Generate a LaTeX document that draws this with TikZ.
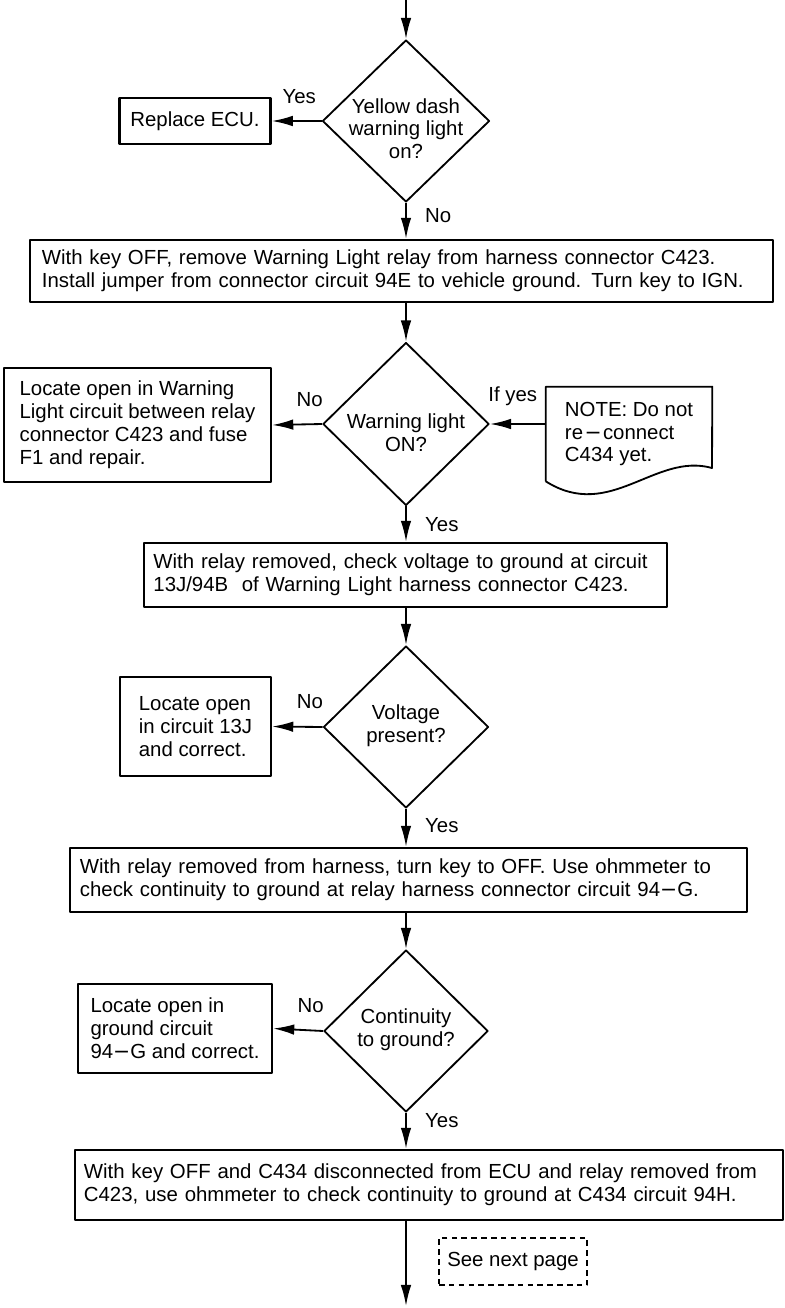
\documentclass[tikz,border=0pt]{standalone}
\usepackage{fontspec}
\setmainfont{Liberation Sans}
\usetikzlibrary{shapes.geometric,arrows.meta}
\newcommand{\dtext}[2]{\raisebox{#1}[0pt][0pt]{\begin{tabular}{@{}c@{}}#2\end{tabular}}}
\begin{document}
\begin{tikzpicture}[x=0.025cm, y=-0.025cm, line join=round, >={Latex[length=15pt,width=7.5pt]},
		font=\fontsize{14.5}{16.3}\selectfont]
	\tikzset{decision/.style={diamond, draw, line width=1.3pt, inner sep=0pt, align=center},
		stepbox/.style={rectangle, draw, line width=1.6pt, inner xsep=0.275cm, align=left},
		lbl/.style={inner sep=0pt},
		flow/.style={->, line width=1.3pt}
	}
	\useasboundingbox (0,0) rectangle (784,1308);
	\coordinate (start) at (406,0);
	\coordinate (end) at (406,1306);
	% first check
	\node[decision, minimum width=4.175cm, minimum height=4.05cm] (d1) at (406,121) {\dtext{-11pt}{Yellow dash\\warning light\\on?}};
	\node[stepbox, minimum width=3.75cm, minimum height=1.15cm] (ecu) at (195,121) {Replace ECU.};
	\node[stepbox, inner xsep=0.3cm, minimum width=18.575cm, minimum height=1.55cm, text width=17.975cm] (s1) at (401.5,271)
		{With key OFF, remove Warning Light relay from harness connector C423.\\Install jumper from connector circuit 94E to vehicle ground. Turn key to IGN.};
	% second check
	\node[decision, minimum width=4.15cm, minimum height=4.075cm] (d2) at (406,424) {\dtext{-12pt}{Warning light\\ON?}};
	\node[stepbox, minimum width=6.675cm, minimum height=2.85cm] (open1) at (137.5,425)
		{Locate open in Warning\\Light circuit between relay\\connector C423 and fuse\\F1 and repair.};
	\node[align=left, inner sep=0pt, minimum width=4.15cm, minimum height=2.35cm] (note) at (629,434)
		{NOTE: Do not\\re\kern1pt{\fontspec{DejaVu Sans}−}\kern1pt connect\\C434 yet.};
	\draw[line width=1.3pt] (note.south west) -- (note.north west) -- (note.north east) -- (712,468)
		.. controls (655,452) and (610,522) .. (note.south west);
	\node[stepbox, inner xsep=0.2375cm, minimum width=13.075cm, minimum height=1.6cm, text width=12.6cm] (s2) at (405.5,575)
		{With relay removed, check voltage to ground at circuit\\13J/94B\ \ of Warning Light harness connector C423.};
	% third check
	\node[decision, minimum width=4.125cm, minimum height=4.05cm] (d3) at (406,727) {\dtext{-3.5pt}{Voltage\\present?}};
	\node[stepbox, minimum width=3.775cm, minimum height=2.475cm] (open2) at (195.5,726.5)
		{Locate open\\in circuit 13J\\and correct.};
	\node[stepbox, inner xsep=0.25cm, minimum width=16.925cm, minimum height=1.6cm, text width=16.425cm] (s3) at (408.5,880)
		{With relay removed from harness, turn key to OFF. Use ohmmeter to\\check continuity to ground at relay harness connector circuit 94{\fontspec{DejaVu Sans}−}G.};
	% fourth check
	\node[decision, minimum width=4.1cm, minimum height=4.05cm] (d4) at (406,1031) {\dtext{-3pt}{Continuity\\to ground?}};
	\node[stepbox, minimum width=4.85cm, minimum height=2.225cm] (open3) at (175,1028.5)
		{Locate open in\\ground circuit\\94{\fontspec{DejaVu Sans}−}G and correct.};
	\node[stepbox, inner xsep=0.225cm, minimum width=17.7cm, minimum height=1.75cm, text width=17.25cm] (s4) at (429,1185)
		{With key OFF and C434 disconnected from ECU and relay removed from\\C423, use ohmmeter to check continuity to ground at C434 circuit 94H.};
	\node[draw, dashed, line width=1.2pt, dash pattern=on 4pt off 3pt, minimum width=3.7cm, minimum height=1.175cm] (next) at (513,1261.5) {See next page};
	% connectors
	\draw[flow] (start) -- (d1.north);
	\draw[flow] (d1.west) -- node[lbl, pos=0.45, above=12pt] {Yes} (ecu.east);
	\draw[flow] (d1.south) -- node[lbl, pos=0.35, right=13pt] {No} (d1.south |- s1.north);
	\draw[flow] (d2.north |- s1.south) -- (d2.north);
	\draw[flow] (d2.west) -- node[lbl, pos=0.25, above=12pt] {No} (open1.east);
	\draw[flow] (note.west |- d2.east) -- node[lbl, pos=0.59, above=12pt] {If yes} (d2.east);
	\draw[flow] (d2.south) -- node[lbl, pos=0.5, right=13pt] {Yes} (d2.south |- s2.north);
	\draw[flow] (d3.north |- s2.south) -- (d3.north);
	\draw[flow] (d3.west) -- node[lbl, pos=0.25, above=12pt] {No} (open2.east);
	\draw[flow] (d3.south) -- node[lbl, pos=0.45, right=13pt] {Yes} (d3.south |- s3.north);
	\draw[flow] (d4.north |- s3.south) -- (d4.north);
	\draw[flow] (d4.west) -- node[lbl, pos=0.25, above=12pt] {No} (open3.east);
	\draw[flow] (d4.south) -- node[lbl, pos=0.2, right=13pt] {Yes} (d4.south |- s4.north);
	\draw[flow] (end |- s4.south) -- (end);
\end{tikzpicture}
\end{document}
